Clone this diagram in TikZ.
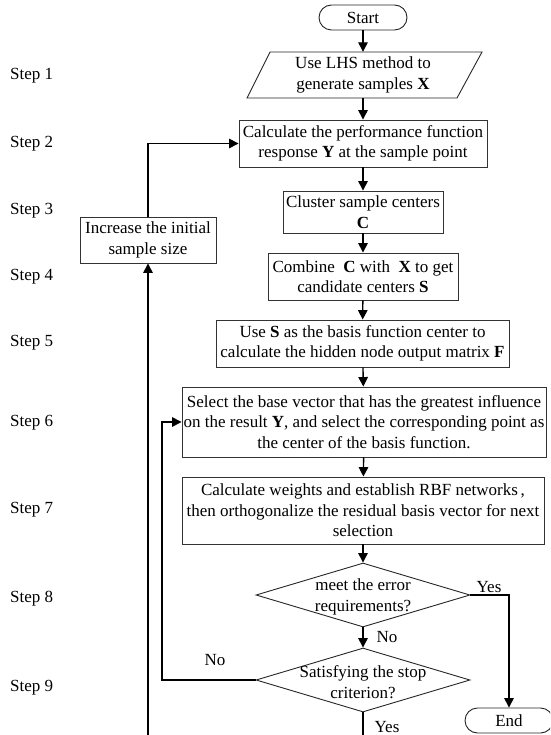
\documentclass[tikz,border=0pt]{standalone}
\usepackage{fontspec}
\setmainfont{Liberation Serif}
\usetikzlibrary{shapes.geometric,arrows.meta}
\begin{document}
\begin{tikzpicture}[x=1pt,y=-1pt,
  every node/.style={font=\fontsize{17}{20.5}\selectfont},
  box/.style={draw=black!80,line width=0.9pt,rectangle,align=center,inner sep=0pt},
  term/.style={draw=black!85,line width=0.9pt,rectangle,rounded corners=12.5pt,minimum width=88pt,minimum height=25pt,inner sep=0pt},
  dia/.style={draw=black!85,line width=0.9pt,diamond,minimum width=214pt,minimum height=64pt,inner sep=0pt},
  conn/.style={line width=1.4pt,-{Triangle[length=9.5pt,width=9.5pt]}},
  plain/.style={line width=1.4pt},
  lbl/.style={inner sep=0pt},
  steplbl/.style={anchor=west,inner sep=0pt}]
\useasboundingbox (0,0) rectangle (550,735);
\clip (0,0) rectangle (550,735);

% step labels
\node[steplbl] (st1) at (10,76) {Step 1};
\node[steplbl] (st2) at (10,144) {Step 2};
\node[steplbl] (st3) at (10,211) {Step 3};
\node[steplbl] (st4) at (10,277) {Step 4};
\node[steplbl] (st5) at (10,343) {Step 5};
\node[steplbl] (st6) at (10,423) {Step 6};
\node[steplbl] (st7) at (10,510) {Step 7};
\node[steplbl] (st8) at (10,599) {Step 8};
\node[steplbl] (st9) at (10,688) {Step 9};

% main flow
\node[term] (start) at (363,17.5) {Start};
\draw[black!85,line width=0.9pt] (270,52) -- (482,52) -- (457,98) -- (247,98) -- cycle;
\node[rectangle,align=center,inner sep=0pt,minimum height=46pt] (lhs) at (363,75) {Use LHS method to\\generate samples \textbf{X}};
\node[box,minimum width=248pt,minimum height=47pt] (s2) at (363,143.5) {Calculate the performance function\\response \textbf{Y} at the sample point};
\node[box,minimum width=160pt,minimum height=42pt] (s3) at (363,212) {Cluster sample centers\\\textbf{C}};
\node[box,minimum width=190pt,minimum height=47pt] (s4) at (363,276.5) {Combine~ \textbf{C} with~ \textbf{X} to get\\candidate centers \textbf{S}};
\node[box,minimum width=293pt,minimum height=47pt] (s5) at (362.5,343.5) {Use \textbf{S} as the basis function center to\\calculate the hidden node output matrix \textbf{F}};
\node[box,minimum width=364pt,minimum height=70pt] (s6) at (364,422) {Select the base vector that has the greatest influence\\on the result \textbf{Y}, and select the corresponding point as\\the center of the basis function.};
\node[box,minimum width=362pt,minimum height=67pt] (s7) at (363,510.5) {Calculate weights and establish RBF networks\,,\\then orthogonalize the residual basis vector for next\\selection};
\node[dia] (d1) at (363,595) {};
\node[align=center,inner sep=0pt] (d1t) at (363,597) {meet the error\\requirements?};
\node[dia] (d2) at (363,680) {};
\node[align=center,inner sep=0pt] (d2t) at (363,682) {Satisfying the stop\\criterion?};
\node[term] (end) at (509,720.5) {End};
\node[box,minimum width=136pt,minimum height=46pt] (incr) at (148,240) {Increase the initial\\sample size};

% connectors
\draw[conn] (start) -- (lhs);
\draw[conn] (lhs) -- (s2);
\draw[conn] (s2) -- (s3);
\draw[conn] (s3) -- (s4);
\draw[conn] (s4) -- (s5);
\draw[conn] (s5) -- (s6);
\draw[conn] (s6) -- (s7);
\draw[conn] (s7) -- (d1);
\draw[conn] (d1) -- (d2);
\node[lbl] (no1) at (387,637) {No};
\draw[conn] (d1.east) -| (end.north);
\node[lbl] (yes1) at (489,587) {Yes};
\coordinate (c1) at (162,680);
\draw[conn] (d2.west) -- (c1) |- (s6.west);
\node[lbl] (no2) at (215,660) {No};
\coordinate (bot1) at (363,745);
\draw[plain] (d2.south) -- (bot1);
\node[lbl] (yes2) at (387,727) {Yes};
\coordinate (bot2) at (148,745);
\draw[conn] (bot2) -- (incr.south);
\draw[conn] (incr.north) |- (s2.west);
\end{tikzpicture}
\end{document}
